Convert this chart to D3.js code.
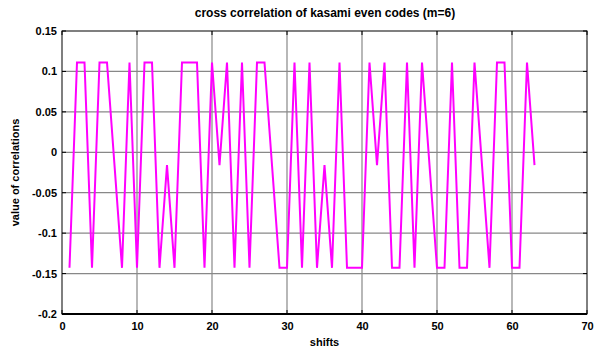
<!DOCTYPE html>
<html>
<head>
<meta charset="utf-8">
<script src="https://cdn.jsdelivr.net/npm/d3@7"></script>
<style>
  body { margin: 0; background: #fff; }
  text { font-family: "Liberation Sans", Arial, sans-serif; font-weight: bold; fill: #000; }
</style>
</head>
<body>
<script>
// correlation levels for m=6, N=63
var H = 0.1111, L = -0.1429, M = -0.0159;

var shifts = d3.range(1, 64);
var values = [
	L, H, H, L, H, H, M, L, H, L, H, H, L, M, L, H, H, H, L, H, M,
	H, L, H, L, H, H, M, L, L, H, L, H, L, M, L, H, L, L, L, H, M,
	H, L, L, H, L, H, M, L, L, H, L, L, H, M, L, H, H, L, L, H, M
];
var xTicks = [0, 10, 20, 30, 40, 50, 60, 70];
var yTicks = [-0.2, -0.15, -0.1, -0.05, 0, 0.05, 0.1, 0.15];
var yTickLabels = ["-0.2", "-0.15", "-0.1", "-0.05", "0", "0.05", "0.1", "0.15"];

var width = 603, height = 347;
// note: "top" is reserved on window, so use plot* names
var plotLeft = 62, plotRight = 587, plotTop = 31, plotBottom = 314;

var svg = d3.select("body").append("svg")
	.attr("width", width)
	.attr("height", height);

var x = d3.scaleLinear().domain([0, 70]).range([plotLeft, plotRight]);
var y = d3.scaleLinear().domain([-0.2, 0.15]).range([plotBottom, plotTop]);

// grid
svg.append("g").selectAll("line")
	.data(xTicks.slice(1, -1))
	.enter().append("line")
	.attr("x1", function(d) { return x(d); })
	.attr("x2", function(d) { return x(d); })
	.attr("y1", plotTop)
	.attr("y2", plotBottom)
	.attr("stroke", "#888")
	.attr("stroke-width", 1.2);

svg.append("g").selectAll("line")
	.data(yTicks.slice(1, -1))
	.enter().append("line")
	.attr("x1", plotLeft)
	.attr("x2", plotRight)
	.attr("y1", function(d) { return y(d); })
	.attr("y2", function(d) { return y(d); })
	.attr("stroke", "#888")
	.attr("stroke-width", 1.2);

// data line
var line = d3.line()
	.x(function(d, i) { return x(shifts[i]); })
	.y(function(d) { return y(d); });

svg.append("path")
	.datum(values)
	.attr("fill", "none")
	.attr("stroke", "#ff00ff")
	.attr("stroke-width", 2)
	.attr("d", line);

// box
svg.append("rect")
	.attr("x", plotLeft)
	.attr("y", plotTop)
	.attr("width", plotRight - plotLeft)
	.attr("height", plotBottom - plotTop)
	.attr("fill", "none")
	.attr("stroke", "#000")
	.attr("stroke-width", 1);

svg.append("line")
	.attr("x1", plotLeft).attr("x2", plotRight)
	.attr("y1", plotBottom).attr("y2", plotBottom)
	.attr("stroke", "#000")
	.attr("stroke-width", 2);

// axes
var xAxis = d3.axisBottom(x).tickValues(xTicks).tickSize(0).tickPadding(8);
var yAxis = d3.axisLeft(y).tickValues(yTicks).tickSize(0).tickPadding(5)
	.tickFormat(function(d, i) { return yTickLabels[i]; });

var gx = svg.append("g").attr("transform", "translate(0," + plotBottom + ")").call(xAxis);
var gy = svg.append("g").attr("transform", "translate(" + plotLeft + ",0)").call(yAxis);
gx.select(".domain").remove();
gy.select(".domain").remove();
svg.selectAll(".tick text")
	.style("font-family", "'Liberation Sans', Arial, sans-serif")
	.style("font-weight", "bold")
	.style("font-size", "11px");

// small inner ticks
svg.append("g").selectAll("line")
	.data(xTicks)
	.enter().append("line")
	.attr("x1", function(d) { return x(d); })
	.attr("x2", function(d) { return x(d); })
	.attr("y1", plotBottom)
	.attr("y2", plotBottom - 4)
	.attr("stroke", "#000");

svg.append("g").selectAll("line")
	.data(xTicks)
	.enter().append("line")
	.attr("x1", function(d) { return x(d); })
	.attr("x2", function(d) { return x(d); })
	.attr("y1", plotTop)
	.attr("y2", plotTop + 4)
	.attr("stroke", "#000");

svg.append("g").selectAll("line")
	.data(yTicks)
	.enter().append("line")
	.attr("x1", plotLeft)
	.attr("x2", plotLeft + 4)
	.attr("y1", function(d) { return y(d); })
	.attr("y2", function(d) { return y(d); })
	.attr("stroke", "#000");

svg.append("g").selectAll("line")
	.data(yTicks)
	.enter().append("line")
	.attr("x1", plotRight - 4)
	.attr("x2", plotRight)
	.attr("y1", function(d) { return y(d); })
	.attr("y2", function(d) { return y(d); })
	.attr("stroke", "#000");

// labels
svg.append("text")
	.attr("x", 325)
	.attr("y", 17)
	.attr("text-anchor", "middle")
	.style("font-size", "12px")
	.text("cross correlation of kasami even codes (m=6)");

svg.append("text")
	.attr("x", (plotLeft + plotRight) / 2)
	.attr("y", 346)
	.attr("text-anchor", "middle")
	.style("font-size", "11px")
	.text("shifts");

svg.append("text")
	.attr("transform", "translate(19," + (plotTop + plotBottom) / 2 + ") rotate(-90)")
	.attr("text-anchor", "middle")
	.style("font-size", "11px")
	.text("value of correlations");
</script>
</body>
</html>
